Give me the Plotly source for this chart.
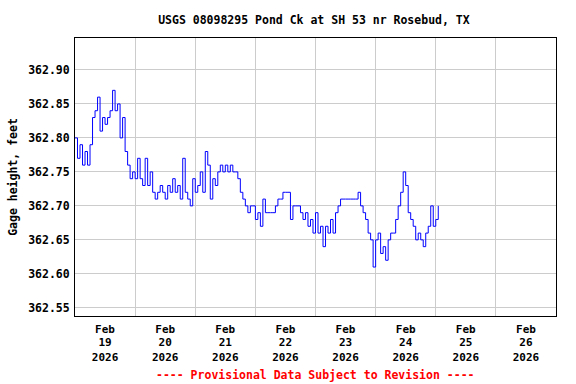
import plotly.graph_objects as go
import pandas as pd

# Hourly gage height readings starting 2026-02-19 00:00 (feet)
start_time = "2026-02-19 00:00"
gage_height = [
    362.80, 362.77, 362.79, 362.76, 362.78, 362.76, 362.79, 362.83, 362.84, 362.86,
    362.81, 362.83, 362.82, 362.83, 362.84, 362.87, 362.84, 362.85, 362.80, 362.83,
    362.78, 362.76, 362.74, 362.75, 362.74, 362.77, 362.74, 362.73, 362.77, 362.73,
    362.75, 362.72, 362.71, 362.72, 362.73, 362.72, 362.71, 362.73, 362.72, 362.74,
    362.72, 362.73, 362.71, 362.77, 362.72, 362.71, 362.70, 362.74, 362.72, 362.73,
    362.75, 362.72, 362.78, 362.76, 362.71, 362.74, 362.73, 362.75, 362.76, 362.75,
    362.76, 362.75, 362.76, 362.75, 362.75, 362.74, 362.72, 362.71, 362.70, 362.69,
    362.70, 362.70, 362.68, 362.69, 362.67, 362.71, 362.69, 362.69, 362.69, 362.69,
    362.70, 362.71, 362.71, 362.72, 362.72, 362.72, 362.68, 362.70, 362.70, 362.70,
    362.69, 362.68, 362.69, 362.67, 362.68, 362.66, 362.69, 362.66, 362.67, 362.64,
    362.67, 362.66, 362.68, 362.66, 362.69, 362.70, 362.71, 362.71, 362.71, 362.71,
    362.71, 362.71, 362.71, 362.72, 362.70, 362.69, 362.68, 362.66, 362.65, 362.61,
    362.65, 362.66, 362.63, 362.64, 362.62, 362.65, 362.66, 362.66, 362.68, 362.70,
    362.72, 362.75, 362.73, 362.69, 362.68, 362.67, 362.65, 362.66, 362.65, 362.64,
    362.66, 362.67, 362.70, 362.67, 362.68, 362.70,
]

days = ["19", "20", "21", "22", "23", "24", "25", "26"]
month_label = "Feb"
year_label = "2026"
y_ticks = [362.55, 362.60, 362.65, 362.70, 362.75, 362.80, 362.85, 362.90]

times = pd.date_range(start_time, periods=len(gage_height), freq="h")
label_pos = [pd.Timestamp(f"2026-02-{d} 12:00") for d in days]
grid_pos = [pd.Timestamp(f"2026-02-{d} 00:00") for d in days[1:]]
x_range = ["2026-02-19 00:00", "2026-02-27 00:00"]

font_family = "DejaVu Sans Mono"
bold = dict(family=font_family, size=11.5, color="black", weight="bold")
xbold = dict(family=font_family, size=11, color="black", weight="bold")

fig = go.Figure()
fig.add_trace(go.Scatter(
    x=times, y=gage_height, mode="lines",
    line=dict(color="#0000ff", width=1, shape="hv"),
    showlegend=False, hoverinfo="skip",
))
# empty traces so the label-only overlay axes are drawn
for ax in ["x2", "x3"]:
    fig.add_trace(go.Scatter(x=[], y=[], xaxis=ax, yaxis="y",
                             showlegend=False, hoverinfo="skip"))

overlay_common = dict(
    type="date", range=x_range, overlaying="x", anchor="y", side="bottom",
    matches="x", tickmode="array", tickvals=label_pos,
    showgrid=False, ticks="", zeroline=False, showline=False, tickfont=xbold,
)

fig.update_layout(
    width=576, height=384,
    margin=dict(l=72, r=20, t=38, b=68),
    paper_bgcolor="white", plot_bgcolor="white",
    font=bold,
    title=dict(
        text="USGS 08098295 Pond Ck at SH 53 nr Rosebud, TX",
        x=0.545, xanchor="center", y=0.948, yanchor="middle", font=bold,
    ),
    xaxis=dict(
        type="date", range=x_range,
        tickmode="array", tickvals=label_pos, ticktext=[month_label] * len(days),
        ticklabelstandoff=3,
        showgrid=False, ticks="", zeroline=False,
        showline=True, linecolor="black", linewidth=1, mirror=True,
        minor=dict(tickmode="array", tickvals=grid_pos, showgrid=True,
                   gridcolor="#cccccc", gridwidth=1, ticks=""),
        tickfont=xbold,
    ),
    xaxis2=dict(overlay_common, ticktext=days, ticklabelstandoff=18),
    xaxis3=dict(overlay_common, ticktext=[year_label] * len(days), ticklabelstandoff=33),
    yaxis=dict(
        range=[362.538, 362.947],
        tickmode="array", tickvals=y_ticks,
        ticktext=[f"{v:.2f}" for v in y_ticks],
        showgrid=True, gridcolor="#cccccc", gridwidth=1, zeroline=False,
        showline=True, linecolor="black", linewidth=1, mirror=True,
        ticks="", ticklabelstandoff=2,
        title=dict(text="Gage height, feet", standoff=8, font=bold),
        tickfont=bold,
    ),
    annotations=[dict(
        text="---- Provisional Data Subject to Revision ----",
        xref="paper", yref="paper", x=0.5, y=-0.212,
        xanchor="center", yanchor="middle", showarrow=False,
        font=dict(family=font_family, size=11.5, color="#ff0000", weight="bold"),
    )],
)

fig.write_html("out.html", config={"displayModeBar": False},
               post_script="document.body.style.margin='0px';")
